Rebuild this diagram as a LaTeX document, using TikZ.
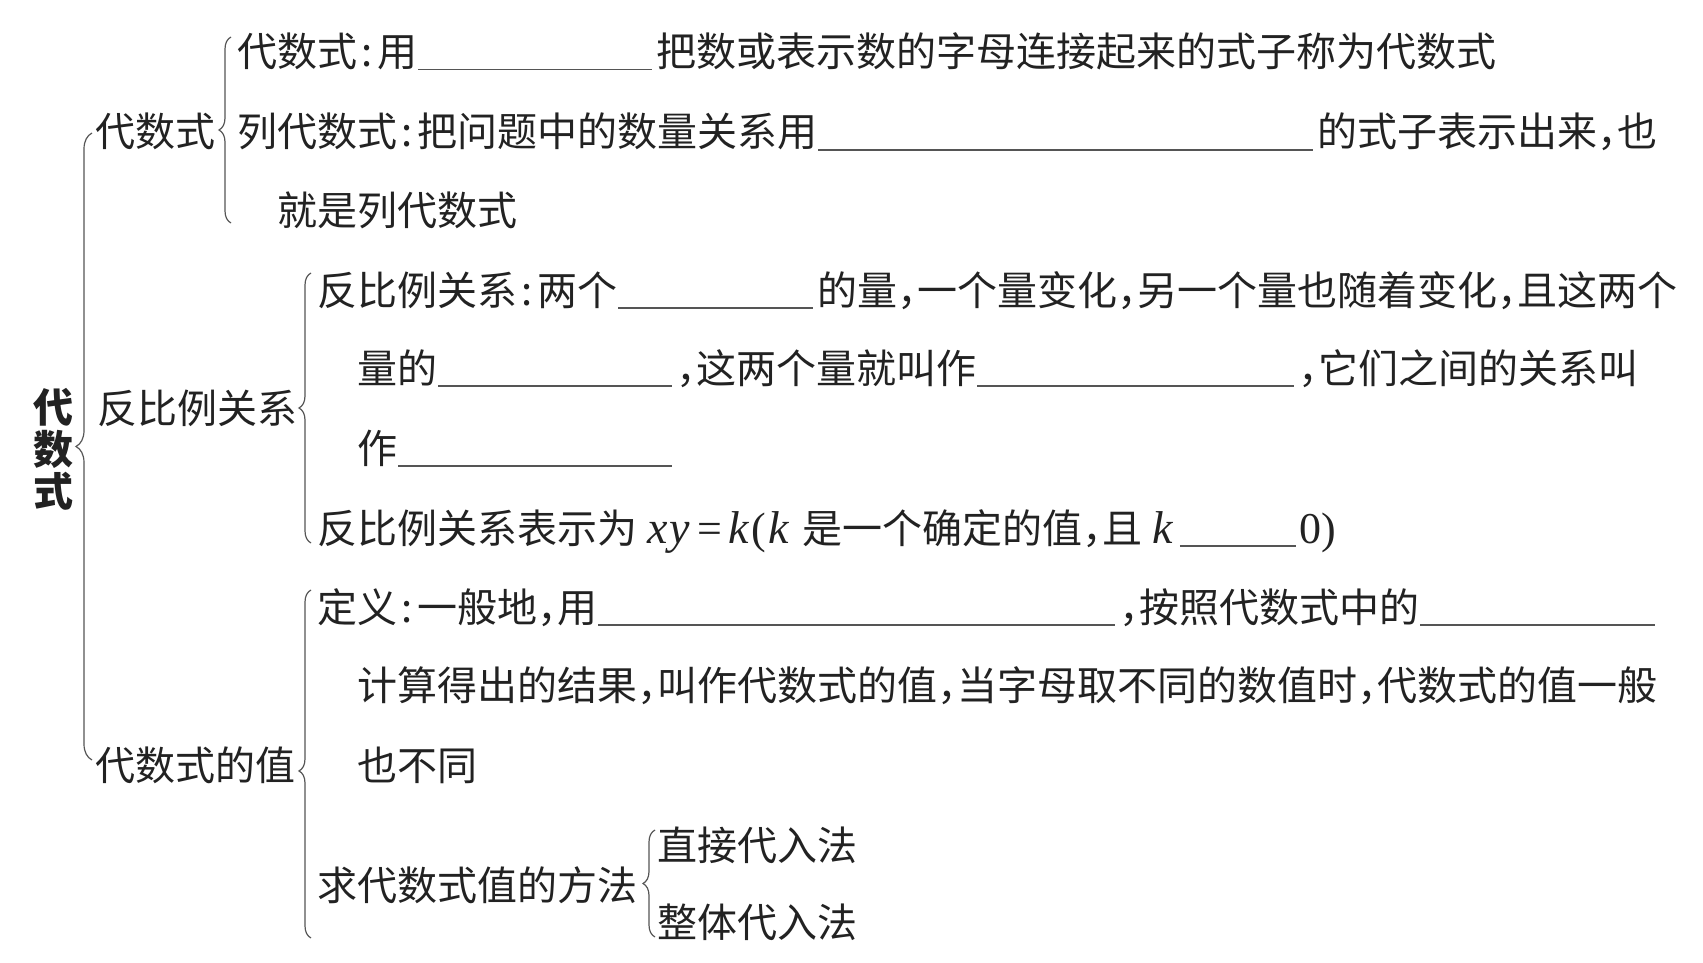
\documentclass[tikz,border=0pt]{standalone}
\usepackage{fontspec}
\setmainfont{Noto Sans CJK SC}
\newfontfamily\lat{Liberation Serif}
\usetikzlibrary{decorations.pathreplacing}
\definecolor{txt}{HTML}{222222}
\definecolor{ln}{HTML}{555555}
\newcommand{\dou}{\makebox[20pt][l]{，}}
\newcommand{\mao}{\makebox[20pt][c]{:}}
\newcommand{\blank}[1]{\hspace{1pt}\textcolor{ln}{\rule[-3.5pt]{#1}{1.1pt}}\hspace{4pt}}
\newcommand{\vi}[1]{{\fontsize{46pt}{48pt}\lat\itshape #1}}
\newcommand{\vr}[1]{{\fontsize{44pt}{48pt}\lat #1}}
\tikzset{
  every node/.style={font=\fontsize{40pt}{48pt}\selectfont, text=txt, inner sep=0pt, anchor=base west},
  brc/.style={decorate, decoration={brace, amplitude=#1}, draw=ln, line width=1.2pt},
  brc/.default=12pt
}
\begin{document}
\begin{tikzpicture}[x=1pt,y=-1pt]
\useasboundingbox (0,0) rectangle (1703,963);
% title
\node (title) [anchor=center, align=center, font=\fontsize{40pt}{42pt}\selectfont\bfseries] at (53,449) {代\\数\\式};
% level 1
\node (k1) at (95,147) {代数式};
\node (k2) at (97,423) {反比例关系};
\node (k3) at (95,780) {代数式的值};
% group 1
\node (a1) at (237,67) {代数式\mao 用\blank{234pt}把数或表示数的字母连接起来的式子称为代数式};
\node (a2) at (237,147) {列代数式\mao 把问题中的数量关系用\blank{495pt}的式子表示出来\dou 也};
\node (a3) at (277,225) {就是列代数式};
% group 2
\node (b1) at (317,305) {反比例关系\mao 两个\blank{195pt}的量\dou 一个量变化\dou 另一个量也随着变化\dou 且这两个};
\node (b2) at (357,383) {量的\blank{234pt}\dou 这两个量就叫作\blank{317pt}\dou 它们之间的关系叫};
\node (b3) at (357,463) {作\blank{274pt}};
\node (b4) at (317,543) {反比例关系表示为\hspace{10pt}\vi{x\kern2pt y}\hspace{7pt}\vr{=}\hspace{7pt}\vi{k}\kern2pt\vr{(}\kern3pt\vi{k}\hspace{13pt}是一个确定的值\dou 且\hspace{10pt}\vi{k}\hspace{6pt}\blank{116pt}\vr{0)}};
% group 3
\node (c1) at (317,622) {定义\mao 一般地\dou 用\blank{517pt}\dou 按照代数式中的\blank{235pt}};
\node (c2) at (357,700) {计算得出的结果\dou 叫作代数式的值\dou 当字母取不同的数值时\dou 代数式的值一般};
\node (c3) at (357,780) {也不同};
\node (c4) at (317,900) {求代数式值的方法};
\node (d1) at (657,860) {直接代入法};
\node (d2) at (657,937) {整体代入法};
% brace end points
\coordinate (m1b) at (92,760);  \coordinate (m1t) at (92,133);
\coordinate (m2b) at (231,223); \coordinate (m2t) at (231,37);
\coordinate (m3b) at (311,543); \coordinate (m3t) at (311,273);
\coordinate (m4b) at (311,938); \coordinate (m4t) at (311,590);
\coordinate (m5b) at (655,937); \coordinate (m5t) at (655,830);
% braces
\draw[brc=16pt] (m1b) -- (m1t);
\draw[brc] (m2b) -- (m2t);
\draw[brc] (m3b) -- (m3t);
\draw[brc, decoration={aspect=0.48}] (m4b) -- (m4t);
\draw[brc] (m5b) -- (m5t);
\end{tikzpicture}
\end{document}
